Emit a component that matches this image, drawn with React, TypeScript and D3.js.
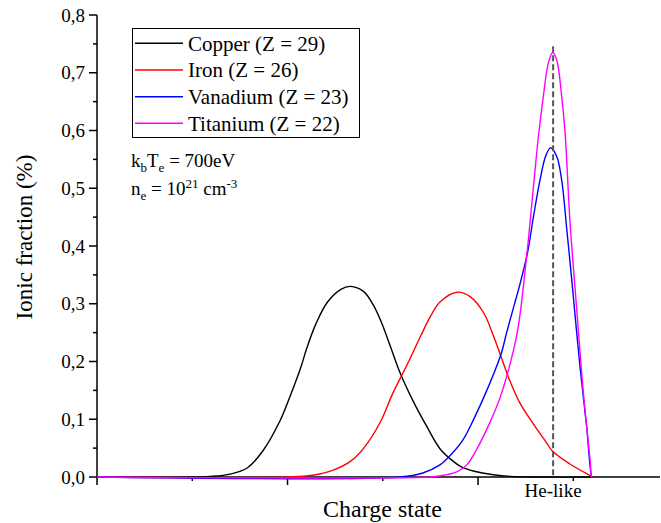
import React from "react";
import * as d3 from "d3";

// ---- data (charge state in arbitrary axis units, ionic fraction) ----
const copper: [number, number][] = [
  [0, 0], [5.0, 0], [5.9, 0.001], [7.0, 0.005], [7.9, 0.016], [8.7, 0.045], [9.6, 0.097],
  [10.1, 0.137], [10.7, 0.19], [11.0, 0.222], [11.5, 0.266], [12.1, 0.303], [12.8, 0.325],
  [13.3, 0.33], [14.0, 0.321], [14.5, 0.298], [14.9, 0.27], [15.4, 0.226], [15.9, 0.181],
  [16.6, 0.131], [17.3, 0.088], [18.0, 0.049], [18.7, 0.027], [19.1, 0.018], [19.8, 0.01],
  [20.8, 0.004], [21.7, 0.001], [23.0, 0], [26.0, 0],
];
const iron: [number, number][] = [
  [0, 0], [10.1, 0], [11.3, 0.003], [12.4, 0.012], [13.3, 0.027], [14.0, 0.05], [14.9, 0.097],
  [15.5, 0.143], [16.3, 0.196], [17.0, 0.245], [17.5, 0.278], [18.0, 0.303], [18.9, 0.32],
  [19.6, 0.312], [20.3, 0.284], [20.8, 0.245], [21.2, 0.209], [21.7, 0.164], [22.2, 0.128],
  [22.9, 0.092], [23.6, 0.059], [23.9, 0.045], [24.8, 0.023], [25.9, 0.002], [26.0, 0],
];
const vanadium: [number, number][] = [
  [0, 0], [15.9, 0], [17.1, 0.007], [18.0, 0.021], [18.5, 0.036], [19.2, 0.064], [19.8, 0.102],
  [20.5, 0.153], [21.2, 0.212], [21.5, 0.25], [21.9, 0.298], [22.2, 0.334], [22.6, 0.389],
  [22.9, 0.449], [23.25, 0.514], [23.55, 0.556], [23.8, 0.57], [24.13, 0.555], [24.39, 0.514],
  [24.66, 0.428], [24.92, 0.341], [25.35, 0.191], [25.7, 0.087], [25.97, 0], [26.0, 0],
];
const titanium: [number, number][] = [
  [0, 0], [17.5, 0], [18.01, 0.002], [18.88, 0.009], [19.41, 0.021], [19.93, 0.048],
  [20.63, 0.095], [21.15, 0.137], [21.85, 0.218], [22.12, 0.262], [22.38, 0.33], [22.64, 0.41],
  [22.9, 0.5], [23.17, 0.59], [23.43, 0.66], [23.69, 0.717], [23.92, 0.735], [24.13, 0.722],
  [24.39, 0.659], [24.57, 0.595], [24.83, 0.44], [25.18, 0.29], [25.53, 0.145], [25.88, 0.03],
  [25.97, 0], [26.0, 0],
];

const seriesNames = ["Copper (Z = 29)", "Iron (Z = 26)", "Vanadium (Z = 23)", "Titanium (Z = 22)"];
const seriesColors = ["#000000", "#ff0000", "#0000ff", "#ff00ff"];
const seriesData = [copper, iron, vanadium, titanium];

const yTicks = [0, 0.1, 0.2, 0.3, 0.4, 0.5, 0.6, 0.7, 0.8];
const yMinorTicks = [0.05, 0.15, 0.25, 0.35, 0.45, 0.55, 0.65, 0.75];
const xTicks = [0, 10, 20];
const xMinorTicks = [5, 15, 25];
const heLikeX = 23.94;
const heLikeTop = 0.746;
const xDomain: [number, number] = [0, 29.55];
const yDomain: [number, number] = [0, 0.8];

const FONT = "'Liberation Serif', 'Times New Roman', serif";

export default function App() {
  const W = 661, H = 523;
  const x = d3.scaleLinear().domain(xDomain).range([97, 660]);
  const y = d3.scaleLinear().domain(yDomain).range([477, 15]);
  const line = d3
    .line<[number, number]>()
    .x((d) => x(d[0]))
    .y((d) => Math.min(y(d[1]), y(0)))
    .curve(d3.curveCatmullRom.alpha(0.5));
  const fmt = (v: number) => d3.format(".1f")(v).replace(".", ",");

  const legendRows = [43.3, 70, 96.7, 123.3];

  return (
    <svg
      width={W}
      height={H}
      style={{ position: "absolute", left: 0, top: 0, background: "#fff" }}
      fontFamily={FONT}
    >
      <rect x={0} y={0} width={W} height={H} fill="#fff" />
      {/* axes */}
      <line x1={x(xDomain[0])} x2={x(xDomain[1])} y1={y(0)} y2={y(0)} stroke="#000" strokeWidth={1.5} />
      <line x1={x(0)} x2={x(0)} y1={y(0) + 0.75} y2={y(yDomain[1])} stroke="#000" strokeWidth={1.5} />
      {yTicks.map((t) => (
        <g key={"yt" + t}>
          <line x1={x(0) - 8} x2={x(0)} y1={y(t)} y2={y(t)} stroke="#000" strokeWidth={1.5} />
          <text x={x(0) - 12} y={y(t)} dy="0.35em" textAnchor="end" fontSize={19}>
            {fmt(t)}
          </text>
        </g>
      ))}
      {yMinorTicks.map((t) => (
        <line key={"ym" + t} x1={x(0) - 4} x2={x(0)} y1={y(t)} y2={y(t)} stroke="#000" strokeWidth={1.5} />
      ))}
      {xTicks.map((t) => (
        <line key={"xt" + t} x1={x(t)} x2={x(t)} y1={y(0)} y2={y(0) + 8} stroke="#000" strokeWidth={1.5} />
      ))}
      {xMinorTicks.map((t) => (
        <line key={"xm" + t} x1={x(t)} x2={x(t)} y1={y(0)} y2={y(0) + 4} stroke="#000" strokeWidth={1.5} />
      ))}

      {/* curves */}
      {seriesData.map((d, i) => (
        <path key={i} d={line(d) || ""} fill="none" stroke={seriesColors[i]} strokeWidth={1.4} />
      ))}

      {/* He-like marker */}
      <line
        x1={x(heLikeX)}
        x2={x(heLikeX)}
        y1={y(heLikeTop)}
        y2={y(0)}
        stroke="#555"
        strokeWidth={2}
        strokeDasharray="6,3"
      />
      <text x={x(heLikeX)} y={497} textAnchor="middle" fontSize={19}>
        He-like
      </text>

      {/* axis titles */}
      <text x={382.5} y={516.5} textAnchor="middle" fontSize={24}>
        Charge state
      </text>
      <text transform="translate(32,237) rotate(-90)" textAnchor="middle" fontSize={23}>
        Ionic fraction (%)
      </text>

      {/* legend */}
      <rect x={132.5} y={28.5} width={227} height={109} fill="#fff" stroke="#000" strokeWidth={1} />
      {seriesNames.map((n, i) => (
        <g key={"lg" + i}>
          <line x1={135} x2={183} y1={legendRows[i]} y2={legendRows[i]} stroke={seriesColors[i]} strokeWidth={1.4} />
          <text x={188} y={legendRows[i]} dy="0.35em" fontSize={21}>
            {n}
          </text>
        </g>
      ))}

      {/* annotation */}
      <text x={131} y={166.5} fontSize={19}>
        <tspan>k</tspan>
        <tspan fontSize={13} dy={5}>b</tspan>
        <tspan dy={-5}>T</tspan>
        <tspan fontSize={13} dy={5}>e</tspan>
        <tspan dy={-5}> = 700eV</tspan>
      </text>
      <text x={131} y={195} fontSize={19}>
        <tspan>n</tspan>
        <tspan fontSize={13} dy={5}>e</tspan>
        <tspan dy={-5}> = 10</tspan>
        <tspan fontSize={13} dy={-7}>21</tspan>
        <tspan dy={7}> cm</tspan>
        <tspan fontSize={13} dy={-7}>-3</tspan>
      </text>
    </svg>
  );
}
